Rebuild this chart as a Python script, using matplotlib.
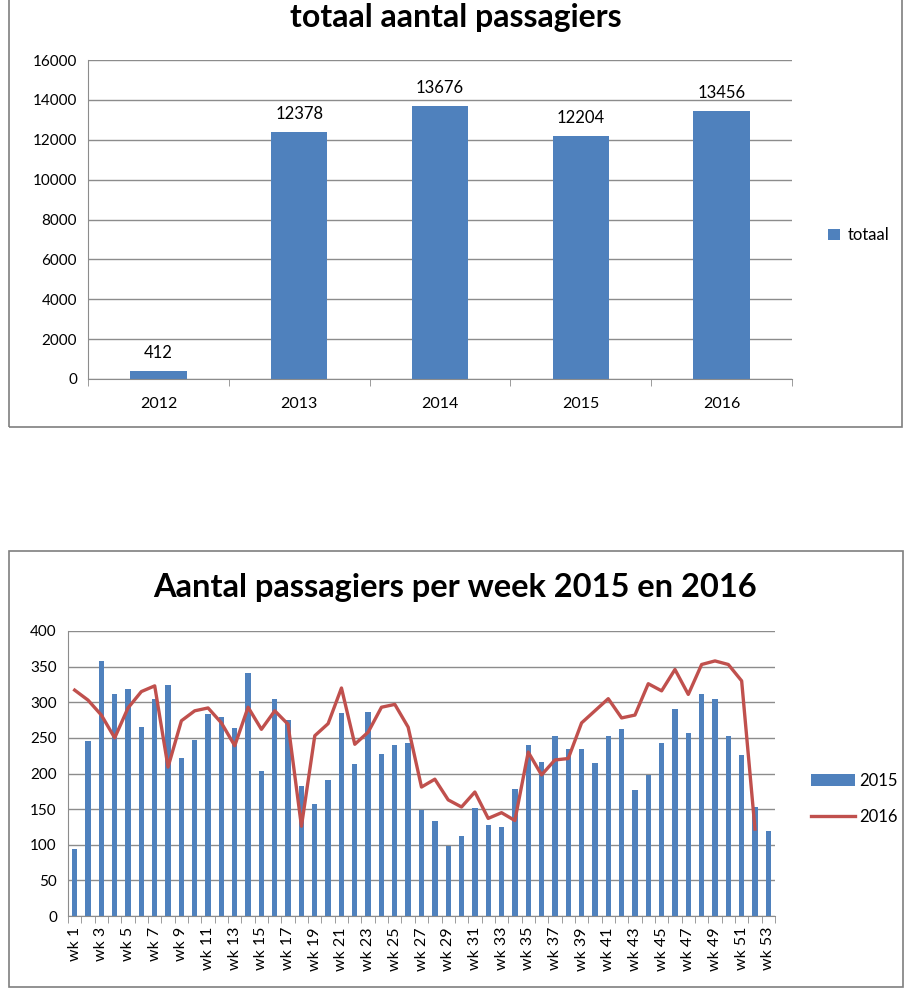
import matplotlib
matplotlib.use("Agg")
import matplotlib.pyplot as plt
from matplotlib.patches import Rectangle
import numpy as np

plt.rcParams['font.family'] = ['Lato', 'DejaVu Sans']

# totals per year
jaren = ['2012', '2013', '2014', '2015', '2016']
totaal = [412, 12378, 13676, 12204, 13456]

# passengers per week
weken = ['wk %d' % i for i in range(1, 54)]
pax_2015 = [94, 245, 358, 311, 318, 265, 305, 324, 222, 247,
            283, 279, 264, 341, 204, 305, 275, 183, 157, 191,
            285, 213, 286, 228, 240, 243, 149, 133, 98, 112,
            151, 128, 125, 178, 240, 216, 253, 234, 234, 215,
            253, 263, 177, 198, 243, 290, 257, 312, 304, 253,
            226, 153, 119]
pax_2016 = [317, 303, 282, 250, 292, 315, 323, 209, 274, 288,
            292, 271, 239, 293, 262, 288, 269, 126, 253, 270,
            320, 241, 258, 293, 297, 265, 181, 192, 163, 153,
            174, 137, 145, 134, 230, 198, 219, 221, 271, 288,
            305, 278, 282, 326, 316, 346, 311, 353, 358, 353,
            330, 122]

blauw = '#4F81BD'
rood = '#C0504D'
grid_c = '#8C8C8C'

fig = plt.figure(figsize=(9.12, 10), dpi=100)
W, H = 912.0, 1000.0

def frac(x0, y0, x1, y1):
    return [x0 / W, 1 - y1 / H, (x1 - x0) / W, (y1 - y0) / H]

# frames around both charts
for (x0, y0, x1, y1) in [(9, -5, 902, 427), (9, 551, 903, 987)]:
    fig.patches.append(Rectangle((x0 / W, 1 - y1 / H), (x1 - x0) / W, (y1 - y0) / H,
                                 transform=fig.transFigure, fill=False,
                                 edgecolor='#7F7F7F', linewidth=1.2))

def style_axes(ax):
    for s in ['top', 'right']:
        ax.spines[s].set_visible(False)
    for s in ['left', 'bottom']:
        ax.spines[s].set_color(grid_c)
    ax.grid(axis='y', color=grid_c, linewidth=1)
    ax.set_axisbelow(True)
    ax.tick_params(axis='y', length=0, labelsize=11, pad=8)

# --- top chart
ax1 = fig.add_axes(frac(88, 60, 792, 379))
x = np.arange(len(jaren))
ax1.bar(x, totaal, width=0.4, color=blauw, label='totaal')
for xi, v in zip(x, totaal):
    ax1.text(xi, v + 500, str(v), ha='center', va='bottom', fontsize=12)
ax1.set_ylim(0, 16000)
ax1.set_yticks(range(0, 16001, 2000))
ax1.set_xlim(-0.5, len(jaren) - 0.5)
ax1.set_xticks(x)
ax1.set_xticklabels(jaren)
ax1.set_xticks(np.arange(-0.5, len(jaren)), minor=True)
ax1.tick_params(axis='x', which='major', length=0, labelsize=11.5, pad=13)
ax1.tick_params(axis='x', which='minor', length=5, color=grid_c)
style_axes(ax1)
fig.text(456 / W, 1 - 18 / H, 'totaal aantal passagiers', ha='center', va='center',
         fontsize=23, fontweight='bold')
ax1.legend(loc='center left', bbox_to_anchor=(1.03, 0.45), frameon=False,
           fontsize=12, handlelength=0.7, handleheight=0.7, handletextpad=0.5)

# --- bottom chart
ax2 = fig.add_axes(frac(68, 631, 775, 916))
xw = np.arange(len(weken))
b15 = ax2.bar(xw, pax_2015, width=0.4, color=blauw, label='2015')
l16, = ax2.plot(np.arange(len(pax_2016)), pax_2016, color=rood, linewidth=2.4, label='2016')
ax2.set_ylim(0, 400)
ax2.set_yticks(range(0, 401, 50))
ax2.set_xlim(-0.5, len(weken) - 0.5)
ax2.set_xticks(xw[::2])
ax2.set_xticklabels(weken[::2], rotation=90)
ax2.set_xticks(np.arange(-0.5, len(weken)), minor=True)
ax2.tick_params(axis='x', which='major', length=0, labelsize=11.5, pad=8)
ax2.tick_params(axis='x', which='minor', length=5, color=grid_c)
style_axes(ax2)
fig.text(455 / W, 1 - 587 / H, 'Aantal passagiers per week 2015 en 2016', ha='center',
         va='center', fontsize=23.5, fontweight='bold')
ax2.legend([b15, l16], ['2015', '2016'], loc='center left', bbox_to_anchor=(1.03, 0.41),
           frameon=False, fontsize=12, handlelength=2.6, labelspacing=1.2,
           handletextpad=0.3)

fig.savefig('out.png', dpi=100)
